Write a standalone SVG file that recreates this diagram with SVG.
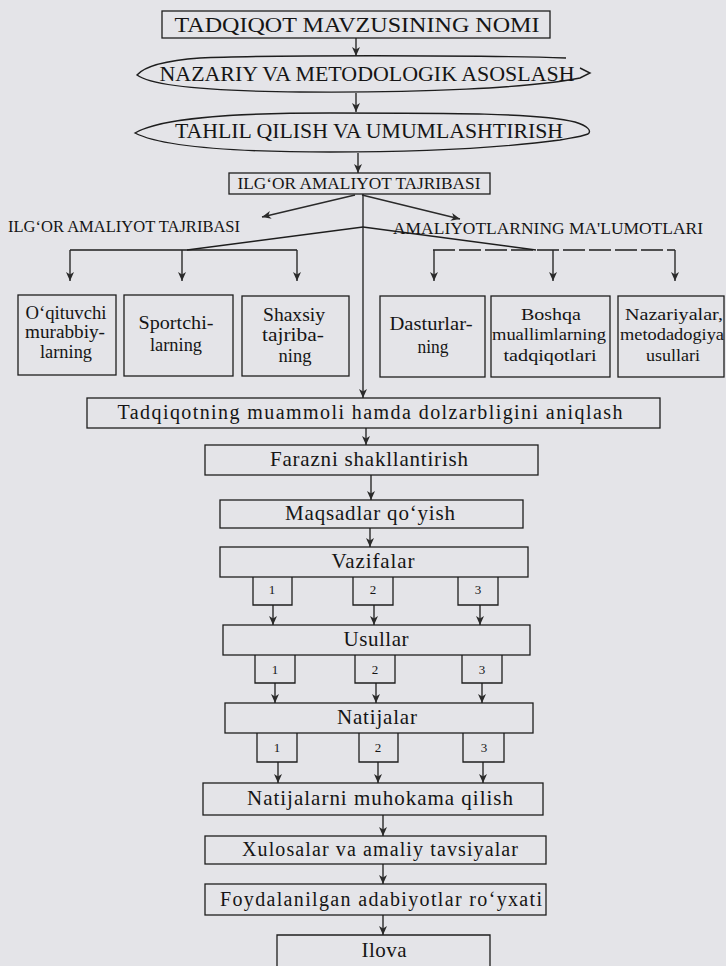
<svg xmlns="http://www.w3.org/2000/svg" width="726" height="966" viewBox="0 0 726 966">
<style>
.bg{fill:#e4e4e8}
.box{fill:none;stroke:#1e1e1e;stroke-width:1.3}
.ln{fill:none;stroke:#1e1e1e;stroke-width:1.4}
.dl{fill:none;stroke:#1e1e1e;stroke-width:1.4;stroke-dasharray:22 4}
.ar{fill:none;stroke:#2a2a2a;stroke-width:1.4;marker-end:url(#ah)}
text{font-family:"Liberation Serif","Times New Roman",serif;fill:#151515}
.t17{font-size:17px}
.t18{font-size:18px}
.t20{font-size:20px}
.t21{font-size:21px}
.t16{font-size:16px}
.t13{font-size:13px}
.c{text-anchor:middle}
</style>
<defs>
<marker id="ah" markerUnits="userSpaceOnUse" markerWidth="10" markerHeight="10" refX="9" refY="5" orient="auto">
<path d="M0,1 L9,5 L0,9 L2.5,5 Z" fill="#2a2a2a"/>
</marker>
</defs>
<rect class="bg" x="0" y="0" width="726" height="966"/>

<g id="connectors">
<line class="ar" x1="356" y1="38" x2="356" y2="56"/>
<line class="ar" x1="356" y1="93" x2="356" y2="112"/>
<line class="ar" x1="358" y1="153" x2="358" y2="173"/>
<line class="ar" x1="355" y1="195" x2="262" y2="217"/>
<line class="ar" x1="362" y1="195" x2="460" y2="219"/>
<line class="ar" x1="363" y1="194" x2="363" y2="398"/>
<polyline class="ln" points="363,227 187,250"/>
<line class="ln" x1="70" y1="250" x2="297" y2="250"/>
<line class="ar" x1="70" y1="250" x2="70" y2="281"/>
<line class="ar" x1="182" y1="250" x2="182" y2="281"/>
<line class="ar" x1="297" y1="250" x2="297" y2="281"/>
<polyline class="ln" points="363,227 536,250"/>
<line class="dl" x1="433" y1="250" x2="675" y2="250"/>
<line class="ar" x1="434" y1="250" x2="434" y2="281"/>
<line class="ar" x1="553" y1="250" x2="553" y2="281"/>
<line class="ar" x1="675" y1="250" x2="675" y2="281"/>
<line class="ar" x1="366" y1="428" x2="366" y2="445"/>
<line class="ar" x1="371" y1="475" x2="371" y2="500"/>
<line class="ar" x1="370" y1="528" x2="370" y2="547"/>
<line class="ar" x1="273" y1="605" x2="273" y2="625"/>
<line class="ar" x1="374" y1="605" x2="374" y2="625"/>
<line class="ar" x1="480" y1="605" x2="480" y2="625"/>
<line class="ar" x1="275" y1="683" x2="275" y2="703"/>
<line class="ar" x1="376" y1="683" x2="376" y2="703"/>
<line class="ar" x1="482" y1="683" x2="482" y2="703"/>
<line class="ar" x1="278" y1="762" x2="278" y2="783"/>
<line class="ar" x1="378" y1="762" x2="378" y2="783"/>
<line class="ar" x1="483" y1="762" x2="483" y2="783"/>
<line class="ar" x1="383" y1="815" x2="383" y2="836"/>
<line class="ar" x1="383" y1="864" x2="383" y2="884"/>
<line class="ar" x1="383" y1="915" x2="383" y2="935"/>
</g>

<g id="title">
<rect class="box" x="162" y="11" width="388" height="27"/>
<text class="t21 c" x="357" y="32" textLength="365" lengthAdjust="spacingAndGlyphs">TADQIQOT MAVZUSINING NOMI</text>
</g>

<g id="nazariy">
<path class="ln" d="M566,58 C480,55 260,55 200,58 C160,61 143,68 137,75 C150,85 200,91 300,92 C420,93 530,88 580,78 L590,73 L580,68"/>
<text class="t20 c" x="367" y="81" textLength="415" lengthAdjust="spacingAndGlyphs">NAZARIY VA METODOLOGIK ASOSLASH</text>
</g>

<g id="tahlil">
<path class="ln" d="M135,133 C160,118 230,113 330,113 C450,113 540,113 575,122 C588,126 592,131 588,134 C580,137 570,138 560,140 C500,148 420,152 330,152 C230,152 160,146 135,133 Z"/>
<text class="t20 c" x="369" y="138" textLength="388" lengthAdjust="spacingAndGlyphs">TAHLIL QILISH VA UMUMLASHTIRISH</text>
</g>

<g id="ilgor-box">
<rect class="box" x="229" y="173" width="261" height="21"/>
<text class="t17 c" x="359" y="189" textLength="243" lengthAdjust="spacingAndGlyphs">ILG‘OR AMALIYOT TAJRIBASI</text>
</g>

<g id="label-left">
<text class="t16" x="8" y="232" textLength="232" lengthAdjust="spacingAndGlyphs">ILG‘OR AMALIYOT TAJRIBASI</text>
</g>
<g id="label-right">
<text class="t17" x="393" y="234" textLength="310" lengthAdjust="spacingAndGlyphs">AMALIYOTLARNING MA'LUMOTLARI</text>
</g>

<g id="n1">
<rect class="box" x="18" y="295" width="98" height="80"/>
<text class="t18 c" x="66" y="319" textLength="81" lengthAdjust="spacingAndGlyphs">O‘qituvchi</text>
<text class="t18 c" x="65" y="338" textLength="80" lengthAdjust="spacingAndGlyphs">murabbiy-</text>
<text class="t18 c" x="66" y="358" textLength="52" lengthAdjust="spacingAndGlyphs">larning</text>
</g>
<g id="n2">
<rect class="box" x="124" y="295" width="109" height="81"/>
<text class="t18 c" x="176" y="329" textLength="75" lengthAdjust="spacingAndGlyphs">Sportchi-</text>
<text class="t18 c" x="176" y="351" textLength="52" lengthAdjust="spacingAndGlyphs">larning</text>
</g>
<g id="n3">
<rect class="box" x="242" y="296" width="107" height="80"/>
<text class="t18 c" x="294" y="321" textLength="62" lengthAdjust="spacingAndGlyphs">Shaxsiy</text>
<text class="t18 c" x="293" y="341" textLength="62" lengthAdjust="spacingAndGlyphs">tajriba-</text>
<text class="t18 c" x="295" y="362" textLength="33" lengthAdjust="spacingAndGlyphs">ning</text>
</g>
<g id="n4">
<rect class="box" x="380" y="296" width="105" height="81"/>
<text class="t18 c" x="431" y="330" textLength="83" lengthAdjust="spacingAndGlyphs">Dasturlar-</text>
<text class="t18 c" x="433" y="353" textLength="31" lengthAdjust="spacingAndGlyphs">ning</text>
</g>
<g id="n5">
<rect class="box" x="491" y="296" width="119" height="81"/>
<text class="t17 c" x="551" y="320" textLength="60" lengthAdjust="spacingAndGlyphs">Boshqa</text>
<text class="t17 c" x="549" y="340" textLength="114" lengthAdjust="spacingAndGlyphs">muallimlarning</text>
<text class="t17 c" x="550" y="361" textLength="93" lengthAdjust="spacingAndGlyphs">tadqiqotlari</text>
</g>
<g id="n6">
<rect class="box" x="618" y="296" width="106" height="81"/>
<text class="t17 c" x="674" y="320" textLength="98" lengthAdjust="spacingAndGlyphs">Nazariyalar,</text>
<text class="t17 c" x="672" y="340" textLength="104" lengthAdjust="spacingAndGlyphs">metodadogiya</text>
<text class="t17 c" x="673" y="361" textLength="54" lengthAdjust="spacingAndGlyphs">usullari</text>
</g>

<g id="tadqiqotning">
<rect class="box" x="87" y="398" width="573" height="30"/>
<text class="t20 c" x="370" y="419" textLength="505">Tadqiqotning muammoli hamda dolzarbligini aniqlash</text>
</g>
<g id="farazni">
<rect class="box" x="205" y="445" width="333" height="30"/>
<text class="t21 c" x="369" y="466" textLength="198">Farazni shakllantirish</text>
</g>
<g id="maqsadlar">
<rect class="box" x="220" y="500" width="303" height="28"/>
<text class="t21 c" x="370" y="520" textLength="170">Maqsadlar qo‘yish</text>
</g>
<g id="vazifalar">
<rect class="box" x="220" y="547" width="308" height="30"/>
<text class="t21 c" x="373" y="568" textLength="83">Vazifalar</text>
<path class="box" d="M253,577 V605 H292 V577"/>
<text class="t13 c" x="272" y="594">1</text>
<path class="box" d="M353,577 V605 H393 V577"/>
<text class="t13 c" x="373" y="594">2</text>
<path class="box" d="M458,577 V605 H498 V577"/>
<text class="t13 c" x="478" y="594">3</text>
</g>
<g id="usullar">
<rect class="box" x="223" y="625" width="307" height="30"/>
<text class="t21 c" x="376" y="646" textLength="65">Usullar</text>
<path class="box" d="M255,655 V683 H295 V655"/>
<text class="t13 c" x="275" y="674">1</text>
<path class="box" d="M355,655 V683 H395 V655"/>
<text class="t13 c" x="375" y="674">2</text>
<path class="box" d="M462,655 V683 H502 V655"/>
<text class="t13 c" x="482" y="674">3</text>
</g>
<g id="natijalar">
<rect class="box" x="225" y="703" width="308" height="30"/>
<text class="t21 c" x="377" y="724" textLength="80">Natijalar</text>
<path class="box" d="M257,733 V762 H297 V733"/>
<text class="t13 c" x="277" y="752">1</text>
<path class="box" d="M359,733 V762 H398 V733"/>
<text class="t13 c" x="378" y="752">2</text>
<path class="box" d="M463,733 V762 H504 V733"/>
<text class="t13 c" x="484" y="752">3</text>
</g>
<g id="muhokama">
<rect class="box" x="203" y="783" width="340" height="32"/>
<text class="t21 c" x="380" y="805" textLength="266">Natijalarni muhokama qilish</text>
</g>
<g id="xulosalar">
<rect class="box" x="205" y="836" width="341" height="28"/>
<text class="t20 c" x="380" y="856" textLength="276">Xulosalar va amaliy tavsiyalar</text>
</g>
<g id="foydalanilgan">
<rect class="box" x="205" y="884" width="341" height="31"/>
<text class="t20 c" x="381" y="906" textLength="322">Foydalanilgan adabiyotlar ro‘yxati</text>
</g>
<g id="ilova">
<path class="box" d="M277,970 V935 H490 V970"/>
<text class="t21 c" x="384" y="957" textLength="45">Ilova</text>
</g>
</svg>
